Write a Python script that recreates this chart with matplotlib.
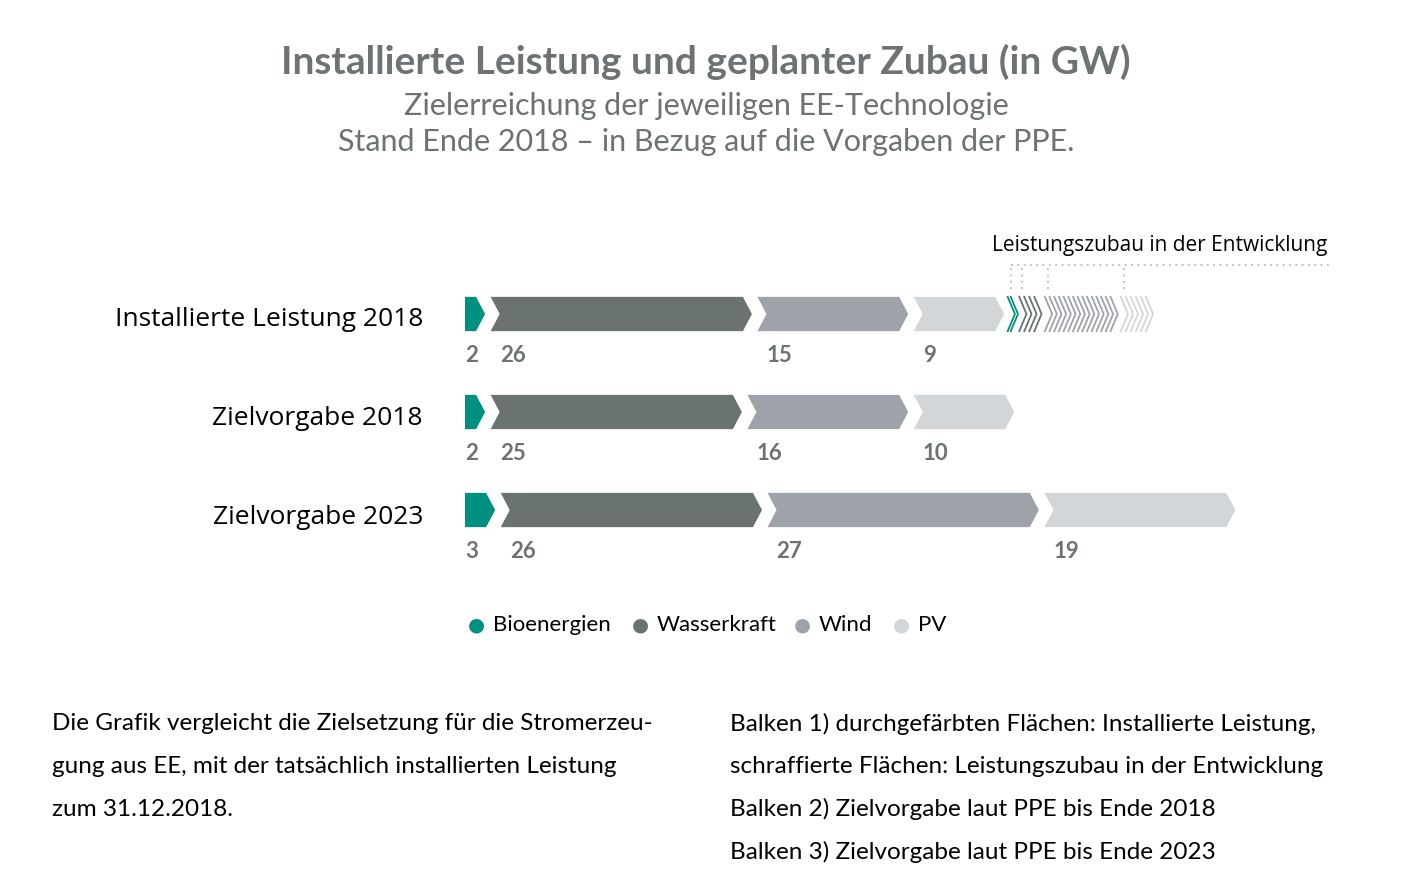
import matplotlib
matplotlib.use("Agg")
import matplotlib.pyplot as plt
from matplotlib.patches import Polygon

# Daten
zeilen = ["Installierte Leistung 2018", "Zielvorgabe 2018", "Zielvorgabe 2023"]
technologien = ["Bioenergien", "Wasserkraft", "Wind", "PV"]
werte = [[2, 26, 15, 9],
         [2, 25, 16, 10],
         [3, 26, 27, 19]]
zubau = [0.6, 2, 7, 3]  # Leistungszubau in der Entwicklung (geschaetzt)
farben = ["#00907f", "#6a7272", "#9ea3a9", "#d3d6d9"]

GAP = 0.55
H = 0.35
TIP = 0.9
grau = "#6d7275"

fig = plt.figure(figsize=(14.12, 8.9), dpi=100)
ax = fig.add_axes([465/1412, (890-559)/890, 800/1412, 294/890])
ax.set_xlim(0, 800/10.05)
ax.set_ylim(2.5, -0.5)
ax.axis("off")

def chevron(x0, x1, y, erster, **kw):
    pts = [(x0, y-H/2), (x1-TIP, y-H/2), (x1, y), (x1-TIP, y+H/2), (x0, y+H/2)]
    if not erster:
        pts.append((x0+TIP, y))
    ax.add_patch(Polygon(pts, closed=True, **kw))

for r, vals in enumerate(werte):
    x = 0
    for i, v in enumerate(vals):
        chevron(x, x+v, r, i == 0, facecolor=farben[i], edgecolor="none")
        lx = x + (0 if i == 0 else 0.9)
        ax.text(lx, r+0.42, str(v), fontsize=16, fontweight="bold", color=grau,
                va="center", ha="left", family="Lato")
        x += v + GAP
    fig.text(423/1412, 1-(320+98.5*r)/890, zeilen[r], fontsize=19, ha="right", va="center",
             family="Open Sans")

# schraffierter Zubau
x0 = sum(werte[0]) + GAP*4 - 0.2
x = x0
for i, v in enumerate(zubau):
    n = max(2, int(v*2.2))
    for k in range(n):
        xs = x + k*v/n
        ax.plot([xs, xs+TIP*0.8, xs], [-H/2, 0, H/2], color=farben[i], lw=1.3)
    # gepunktete Verbindung nach oben
    ax.plot([x+0.3, x+0.3], [-H/2-0.08, -0.5], color="#bbbbbb", lw=1.3, ls=(0, (1, 2.5)),
            clip_on=False)
    x += v + GAP
ax.plot([x0 + 0.3, 86], [-0.5, -0.5], color="#bbbbbb", lw=1.3,
        ls=(0, (1, 2.5)), clip_on=False)
fig.text(992/1412, 1-246/890, "Leistungszubau in der Entwicklung", fontsize=15,
         va="center", family="Open Sans")

# Titel
fig.text(0.5, 1-62/890, "Installierte Leistung und geplanter Zubau (in GW)", fontsize=28,
         fontweight="bold", color=grau, ha="center", va="center", family="Lato")
fig.text(0.5, 1-106/890, "Zielerreichung der jeweiligen EE-Technologie", fontsize=22,
         color=grau, ha="center", va="center", family="Lato")
fig.text(0.5, 1-142/890, "Stand Ende 2018 – in Bezug auf die Vorgaben der PPE.", fontsize=22,
         color=grau, ha="center", va="center", family="Lato")

# Legende
lx = [476, 640, 802, 901]
for i, t in enumerate(technologien):
    fig.text(lx[i]/1412, 1-625/890, "●", color=farben[i], fontsize=14, ha="center", va="center")
    fig.text((lx[i]+17)/1412, 1-625/890, t, fontsize=16, va="center", family="Lato")

# Fusstext
links = ["Die Grafik vergleicht die Zielsetzung für die Stromerzeu-",
         "gung aus EE, mit der tatsächlich installierten Leistung",
         "zum 31.12.2018."]
rechts = ["Balken 1) durchgefärbten Flächen: Installierte Leistung,",
          "schraffierte Flächen: Leistungszubau in der Entwicklung",
          "Balken 2) Zielvorgabe laut PPE bis Ende 2018",
          "Balken 3) Zielvorgabe laut PPE bis Ende 2023"]
for j, t in enumerate(links):
    fig.text(52/1412, 1-(724+42.5*j)/890, t, fontsize=17.5, va="center", family="Lato")
for j, t in enumerate(rechts):
    fig.text(730/1412, 1-(724+42.5*j)/890, t, fontsize=17.5, va="center", family="Lato")

fig.savefig("out.png", dpi=100, facecolor="white")
